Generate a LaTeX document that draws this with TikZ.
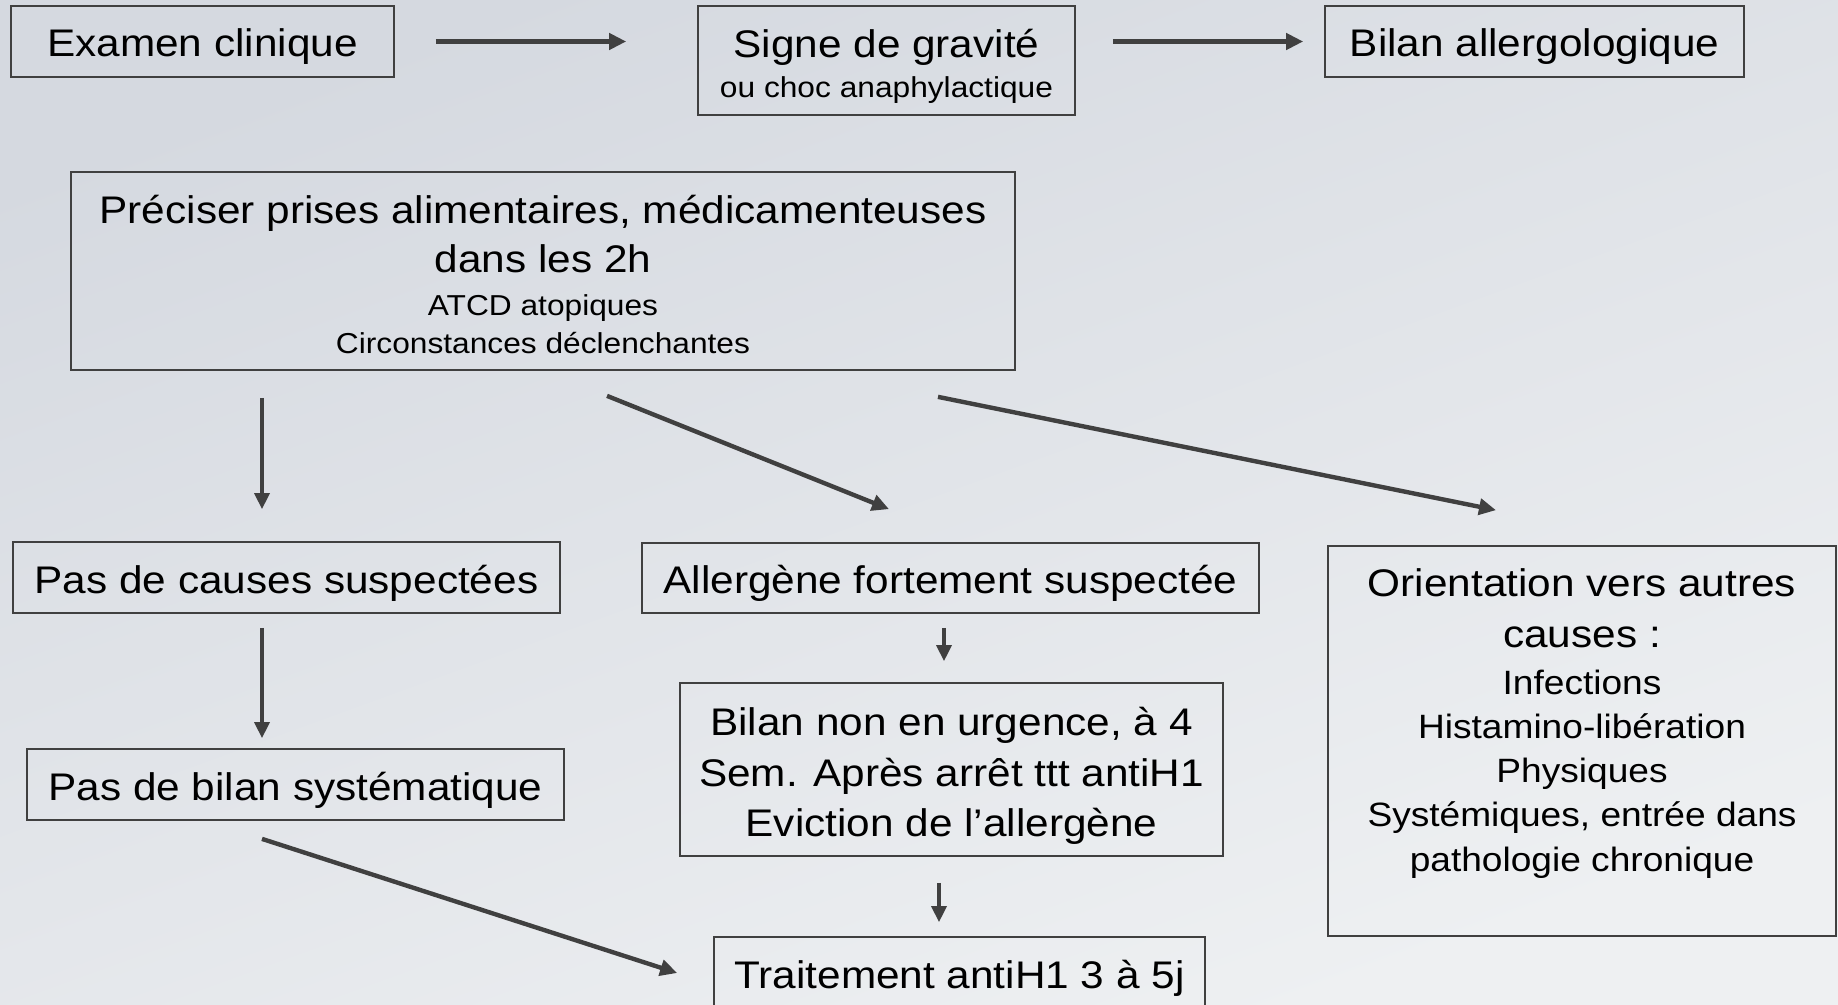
\documentclass[tikz,border=0pt]{standalone}
\usepackage{fontspec}
\setmainfont[FakeStretch=1.1]{Liberation Sans}
\usetikzlibrary{arrows.meta,calc}

\definecolor{traitgris}{RGB}{64,64,64}
\definecolor{fondhaut}{RGB}{213,217,224}
\definecolor{fondbas}{RGB}{238,240,242}

\newcommand{\grand}{\fontsize{21.9}{28}\selectfont}
\newcommand{\moyen}{\fontsize{19.2}{25.2}\selectfont}
\newcommand{\petit}{\fontsize{16.4}{21.6}\selectfont}
% hauteur de la premiere ligne, profondeur de la derniere
\newcommand{\haut}[1]{\rule{0pt}{#1}}
\newcommand{\bas}[1]{\rule[-#1]{0pt}{0pt}}

\tikzset{
  boite/.style={draw=traitgris, line width=1pt, inner sep=0pt, align=center, font=\grand},
  uneligne/.style={boite, text height=0.82cm, text depth=0.2cm},
  fleche/.style={draw=traitgris, line width=2.5pt, -{Triangle[length=0.34cm,width=0.32cm]}},
  flechefine/.style={draw=traitgris, line width=1.9pt, -{Triangle[length=0.32cm,width=0.3cm]}},
}

\begin{document}
\begin{tikzpicture}[x=0.02cm, y=-0.02cm]
% fond
\shade[top color=fondhaut, bottom color=fondbas, shading angle=20] (0,0) rectangle (1838,1004);
\useasboundingbox (0,0) rectangle (1838,1004);

% ligne du haut
\node[uneligne, minimum width=7.66cm, minimum height=1.42cm] (examen) at (202.5,41.5) {Examen clinique};
\node[boite, minimum width=7.54cm, minimum height=2.18cm, font=\fontsize{21.9}{23.2}\selectfont] (gravite) at (886.5,60.5) {\haut{0.88cm}Signe de gravité\\ \petit ou choc anaphylactique\bas{0.2cm}};
\node[uneligne, minimum width=8.38cm, minimum height=1.42cm] (bilanallergo) at (1534.5,41.5) {Bilan allergologique};

\node[boite, minimum width=18.88cm, minimum height=3.96cm, font=\fontsize{21.9}{21.6}\selectfont] (preciser) at (543,271) {\haut{0.9cm}Préciser prises alimentaires, médicamenteuses\\[6.5pt] dans les 2h\\[2.6pt] \petit ATCD atopiques\\ \petit Circonstances déclenchantes\bas{0.2cm}};

% trois branches
\node[uneligne, minimum width=10.94cm, minimum height=1.42cm] (pascauses) at (286.5,577.5) {Pas de causes suspectées};
\node[uneligne, minimum width=10.74cm, minimum height=1.42cm] (pasbilan) at (295.5,784.5) {Pas de bilan systématique};
\node[uneligne, minimum width=12.34cm, minimum height=1.40cm] (allergene) at (950.5,578) {Allergène fortement suspectée};
\node[boite, minimum width=10.86cm, minimum height=3.46cm, font=\fontsize{21.9}{29}\selectfont] (bilanurgence) at (951.5,769.5) {\haut{0.9cm}Bilan non en urgence, à 4\\ Sem. Après arrêt ttt antiH1\\ Eviction de l’allergène\bas{0.24cm}};
\node[uneligne, minimum width=9.82cm, minimum height=1.42cm] (traitement) at (959.5,972.5) {Traitement antiH1 3 à 5j};
\node[boite, minimum width=10.16cm, minimum height=7.80cm] (orientation) at (1582,741) {};
\node[anchor=north, align=center, inner sep=0pt, font=\moyen] (orientationtxt) at ($(orientation.north)+(0,23)$) {\grand Orientation vers autres\\[3.6pt] \grand causes :\\[1.6pt] Infections\\ Histamino-libération\\ Physiques\\ Systémiques, entrée dans\\ pathologie chronique};

% fleches
\draw[fleche, shorten <=0.82cm, shorten >=1.42cm] (examen.east) -- (examen.east -| gravite.west);
\draw[fleche, shorten <=0.74cm, shorten >=0.42cm] (bilanallergo.west -| gravite.east) -- (bilanallergo.west);
\draw[flechefine] ($(preciser.south)+(-281,27)$) -- ($(pascauses.north)+(-24.5,-32)$);
\draw[fleche] ($(preciser.south)+(64,25)$) -- ($(allergene.north)+(-61.5,-33)$);
\draw[fleche] ($(preciser.south)+(395,26)$) -- ($(orientation.north)+(-86,-35)$);
\draw[flechefine] ($(pascauses.south)+(-24.5,14)$) -- ($(pasbilan.north)+(-33.5,-10)$);
\draw[fleche] ($(pasbilan.south)+(-33.5,18)$) -- ($(traitement.west)+(-36,0.5)$);
\draw[flechefine] ($(allergene.south)+(-6.5,14)$) -- ($(bilanurgence.north)+(-7.5,-21)$);
\draw[flechefine] ($(bilanurgence.south)+(-12.5,26)$) -- ($(traitement.north)+(-20.5,-14)$);

\end{tikzpicture}
\end{document}
